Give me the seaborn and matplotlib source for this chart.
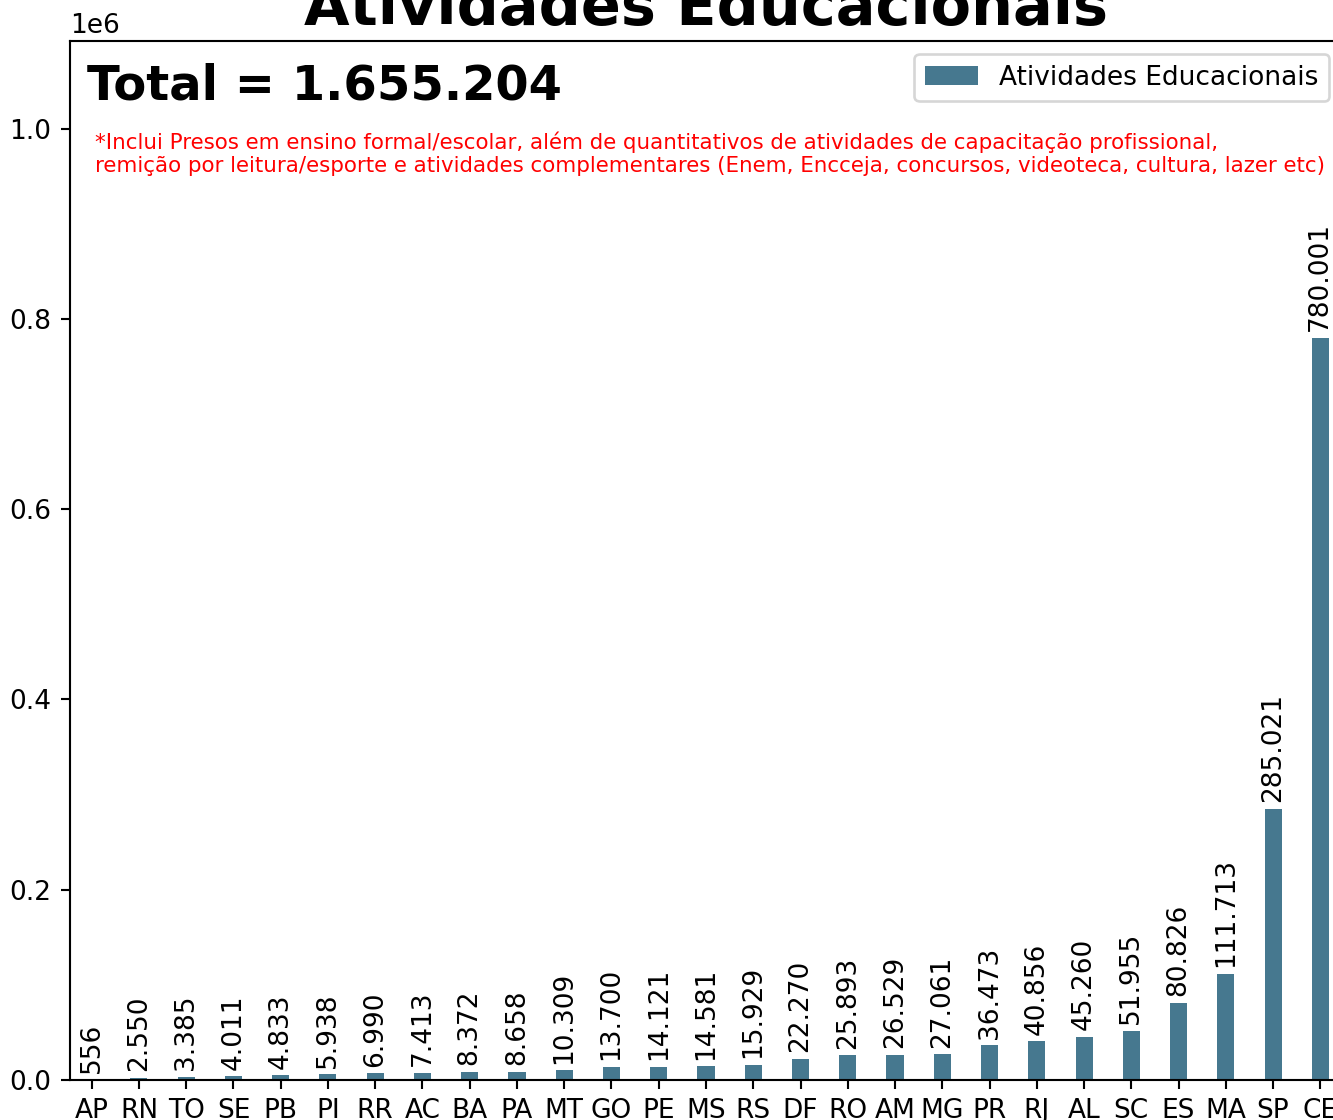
import matplotlib
matplotlib.use("Agg")
import matplotlib.pyplot as plt
import seaborn as sns
import pandas as pd

estados = ["AP", "RN", "TO", "SE", "PB", "PI", "RR", "AC", "BA", "PA", "MT", "GO", "PE", "MS",
           "RS", "DF", "RO", "AM", "MG", "PR", "RJ", "AL", "SC", "ES", "MA", "SP", "CE"]
valores = [556, 2550, 3385, 4011, 4833, 5938, 6990, 7413, 8372, 8658, 10309, 13700, 14121, 14581,
           15929, 22270, 25893, 26529, 27061, 36473, 40856, 45260, 51955, 80826, 111713, 285021, 780001]
serie = "Atividades Educacionais"
titulo = "Atividades Educacionais"
nota = ("*Inclui Presos em ensino formal/escolar, além de quantitativos de atividades de capacitação profissional,\n"
        "remição por leitura/esporte e atividades complementares (Enem, Encceja, concursos, videoteca, cultura, lazer etc)")
cor = "#46788f"

def fmt(v):
    return f"{v:,}".replace(",", ".")

df = pd.DataFrame({"UF": estados, "Valor": valores})

DPI = 190
fig = plt.figure(figsize=(1333 / DPI, 1120 / DPI), dpi=DPI)
ax = fig.add_axes([70 / 1333, 40 / 1120, 1272 / 1333, 1039 / 1120])

sns.barplot(data=df, x="UF", y="Valor", color=cor, saturation=1, width=0.36,
            label=serie, ax=ax)
ax.set_xlim(-0.46, len(estados) - 1 + 0.46)
ax.set_ylim(0, max(valores) * 1.4)
ax.set_xlabel("")
ax.set_ylabel("")
ax.tick_params(labelsize=10)

ax.bar_label(ax.containers[0], labels=[fmt(v) for v in valores], rotation=90,
             padding=2.5, fontsize=10)

ax.set_title(titulo, fontsize=22.3, fontweight="bold")
ax.text(0.0135, 0.944, f"Total = {fmt(sum(valores))}", transform=ax.transAxes,
        fontsize=18.2, fontweight="bold", va="baseline", ha="left")
ax.text(0.0197, 0.913, nota, transform=ax.transAxes, fontsize=8.1, color="red",
        va="top", ha="left")
ax.legend(loc="upper right", fontsize=10)

fig.savefig("out.png", dpi=DPI)
